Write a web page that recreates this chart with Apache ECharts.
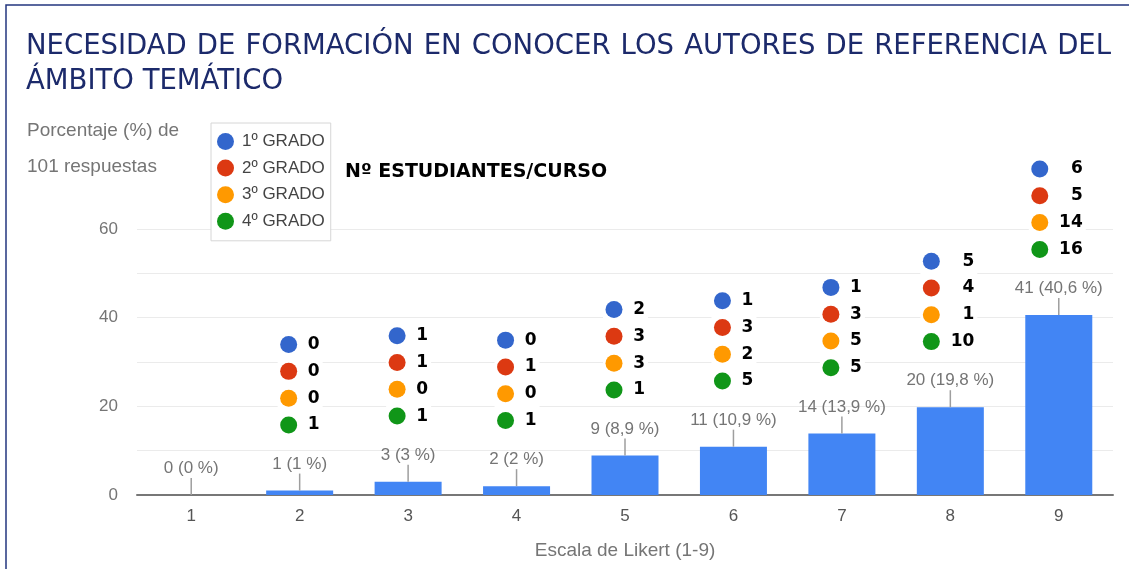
<!DOCTYPE html>
<html><head><meta charset="utf-8">
<script src="https://cdn.jsdelivr.net/npm/echarts@6/dist/echarts.min.js"></script>
<style>html,body{margin:0;padding:0;background:#fff}#c{width:1129px;height:569px}</style>
</head><body><div id="c"></div>
<script>
const titleLine1 = 'NECESIDAD DE FORMACIÓN EN CONOCER LOS AUTORES DE REFERENCIA DEL';
const titleLine2 = 'ÁMBITO TEMÁTICO';
const yAxisTitle = ['Porcentaje (%) de', '101 respuestas'];
const xAxisTitle = 'Escala de Likert (1-9)';
const annotationTitle = 'Nº ESTUDIANTES/CURSO';
const categories = ['1','2','3','4','5','6','7','8','9'];
const counts = [0, 1, 3, 2, 9, 11, 14, 20, 41];
const percents = [0, 1, 3, 2, 8.9, 10.9, 13.9, 19.8, 40.6];
const gradeNames = ['1º GRADO', '2º GRADO', '3º GRADO', '4º GRADO'];
const grado1 = [null, 0, 1, 0, 2, 1, 1, 5, 6];
const grado2 = [null, 0, 1, 1, 3, 3, 3, 4, 5];
const grado3 = [null, 0, 0, 0, 3, 2, 5, 1, 14];
const grado4 = [null, 1, 1, 1, 1, 5, 5, 10, 16];
const yTicks = [0, 20, 40, 60];

const gradeColors = ['#3366cc', '#dc3912', '#ff9900', '#109618'];
const gradeData = [grado1, grado2, grado3, grado4];
const isWide = i => gradeData.some(a => a[i] != null && a[i] >= 10);

const chart = echarts.init(document.getElementById('c'));

// justified first title line
const TITLE_FONT = '27.5px "DejaVu Sans"';
const cv = document.createElement('canvas').getContext('2d');
cv.font = TITLE_FONT;
const words = titleLine1.split(' ');
const wWidths = words.map(w => cv.measureText(w).width);
const lineLeft = 26, lineRight = 1111;
const gap = (lineRight - lineLeft - wWidths.reduce((a, b) => a + b, 0)) / (words.length - 1);
const titleEls = [];
let cx = lineLeft;
words.forEach((w, k) => {
  titleEls.push({type: 'text', x: cx, y: 47, style: {text: w, font: TITLE_FONT, fill: '#1c2a6b', verticalAlign: 'middle'}});
  cx += wWidths[k] + gap;
});
titleEls.push({type: 'text', x: lineLeft, y: 82, style: {text: titleLine2, font: TITLE_FONT, fill: '#1c2a6b', verticalAlign: 'middle'}});

const option = {
  animation: false,
  backgroundColor: '#fff',
  grid: {left: 137, right: 16, top: 229, bottom: 74},
  legend: {
    data: gradeNames, orient: 'vertical', left: 211, top: 123, z: 10,
    icon: 'circle', itemWidth: 17, itemHeight: 17, itemGap: 9.6,
    padding: [10, 6, 11, 6],
    backgroundColor: '#fff', borderColor: '#d6d6d6', borderWidth: 1,
    textStyle: {color: '#444', fontSize: 17, lineHeight: 17, fontFamily: 'Liberation Sans', padding: [0, 0, 0, 3]}
  },
  xAxis: {
    type: 'category', data: categories,
    axisLine: {lineStyle: {color: '#777', width: 2}},
    axisTick: {show: false},
    axisLabel: {color: '#555', fontSize: 17, margin: 13, fontFamily: 'Liberation Sans'},
    name: xAxisTitle, nameLocation: 'middle', nameGap: 46,
    nameTextStyle: {color: '#757575', fontSize: 19, fontFamily: 'Liberation Sans'}
  },
  yAxis: {
    type: 'value', min: 0, max: 60, interval: 10,
    axisLine: {show: false}, axisTick: {show: false},
    axisLabel: {color: '#757575', fontSize: 17, margin: 19, fontFamily: 'Liberation Sans',
      formatter: v => yTicks.includes(v) ? String(v) : ''},
    splitLine: {lineStyle: {color: '#ebebeb', width: 1}}
  },
  graphic: [
    {type: 'rect', shape: {x: 6, y: 5, width: 1200, height: 700}, style: {fill: 'none', stroke: '#23367f', lineWidth: 1.5}, silent: true},
    ...titleEls,
    {type: 'text', x: 27, y: 131, style: {text: yAxisTitle[0], font: '19px "Liberation Sans"', fill: '#757575', verticalAlign: 'middle'}},
    {type: 'text', x: 27, y: 167, style: {text: yAxisTitle[1], font: '19px "Liberation Sans"', fill: '#757575', verticalAlign: 'middle'}},
    {type: 'text', x: 345, y: 172, style: {text: annotationTitle, font: 'bold 19px "DejaVu Sans"', fill: '#000', verticalAlign: 'middle'}}
  ],
  series: [
    {
      type: 'bar', name: 'Respuestas', data: percents, barWidth: 67,
      itemStyle: {color: '#4285f4'},
      label: {show: true, position: 'top', distance: 18, color: '#757575', fontSize: 17, fontFamily: 'Liberation Sans',
        formatter: p => counts[p.dataIndex] + ' (' + String(percents[p.dataIndex]).replace('.', ',') + ' %)'}
    },
    {
      type: 'custom', name: 'leader', silent: true, z: 3,
      data: percents.map((v, i) => [i, v]),
      renderItem: (params, api) => {
        const p = api.coord([api.value(0), api.value(1)]);
        return {type: 'line', shape: {x1: p[0], y1: p[1], x2: p[0], y2: p[1] - 17},
          style: {stroke: '#9e9e9e', lineWidth: 1.5}};
      }
    },
    ...gradeData.map((arr, g) => ({
      type: 'custom', name: gradeNames[g], clip: false, z: 5,
      itemStyle: {color: gradeColors[g]},
      data: arr.map((v, i) => v == null ? null : [i, percents[i], v]).filter(Boolean),
      renderItem: (params, api) => {
        const i = api.value(0);
        const p = api.coord([i, api.value(1)]);
        const wide = isWide(i);
        const dotX = p[0] - (wide ? 19 : 11);
        const y = p[1] - 146 + g * 26.8;
        const numRight = dotX + (wide ? 43 : 31);
        return {type: 'group', children: [
          {type: 'rect', shape: {x: dotX - 11, y: y - 13.5, width: numRight - dotX + 14, height: 27}, style: {fill: '#fff'}},
          {type: 'circle', shape: {cx: dotX, cy: y, r: 8.5}, style: {fill: gradeColors[g]}},
          {type: 'text', style: {text: String(api.value(2)), x: numRight, y: y, align: 'right', verticalAlign: 'middle',
            font: 'bold 17px "DejaVu Sans"', fill: '#000'}}
        ]};
      }
    }))
  ]
};
chart.setOption(option);
</script>
</body></html>
